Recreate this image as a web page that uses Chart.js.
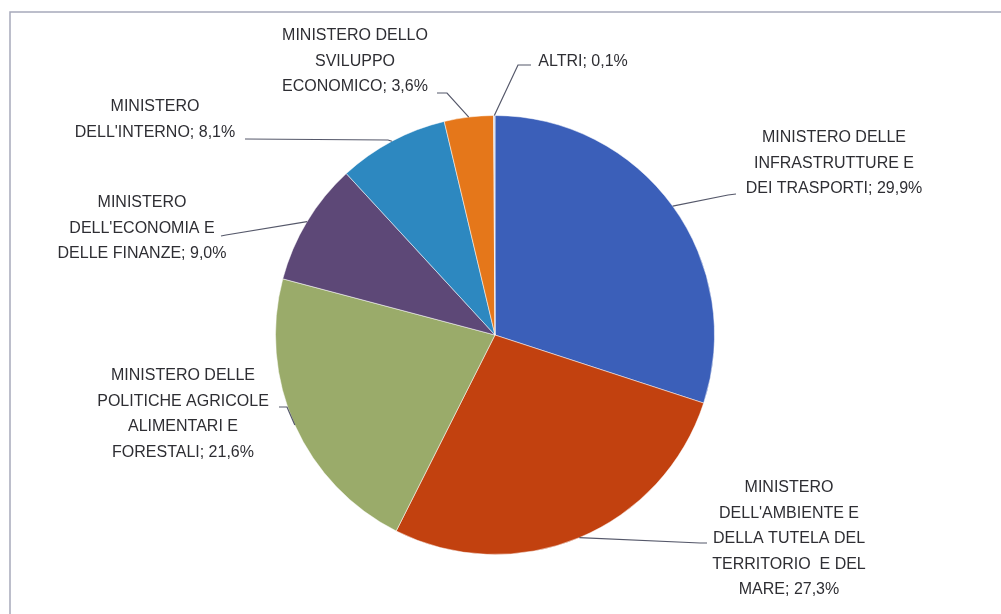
<!DOCTYPE html>
<html>
<head>
<meta charset="utf-8">
<script src="https://cdn.jsdelivr.net/npm/chart.js@4"></script>
<style>
  html, body { margin: 0; padding: 0; background: #fff; }
  #wrap { width: 1001px; height: 614px; position: relative; }
</style>
</head>
<body>
<div id="wrap"><canvas id="pieChart"></canvas></div>
<script>
// categories (label lines) and shares in %
const categories = [
    ["MINISTERO DELLE", "INFRASTRUTTURE E", "DEI TRASPORTI"],
    ["MINISTERO", "DELL'AMBIENTE E", "DELLA TUTELA DEL", "TERRITORIO  E DEL", "MARE"],
    ["MINISTERO DELLE", "POLITICHE AGRICOLE", "ALIMENTARI E", "FORESTALI"],
    ["MINISTERO", "DELL'ECONOMIA E", "DELLE FINANZE"],
    ["MINISTERO", "DELL'INTERNO"],
    ["MINISTERO DELLO", "SVILUPPO", "ECONOMICO"],
    ["ALTRI"]
];
const shares = [29.9, 27.3, 21.6, 9.0, 8.1, 3.6, 0.1];
const sliceColors = ["#3b5fb9", "#c2410f", "#9aab6a", "#5d4877", "#2d88c0", "#e5771a", "#c5d2ea"];

// where each label sits: text centre x, first line y, leader start and elbow
const labelLayout = [
    { x: 834, y: 138, attach: [736, 194], elbow: [728, 195] },
    { x: 789, y: 488, attach: [707, 543], elbow: [700, 543] },
    { x: 183, y: 376, attach: [279, 407], elbow: [287, 407] },
    { x: 142, y: 203, attach: [221, 236], elbow: [226, 235] },
    { x: 155, y: 107, attach: [245, 139], elbow: [388, 140] },
    { x: 355, y: 36, attach: [437, 93], elbow: [447, 93] },
    { x: 583, y: 62, attach: [531, 65], elbow: [518, 65] }
];
const lineHeight = 25.5;

function fmt(v) {
    return v.toFixed(1).replace('.', ',') + '%';
}

const framePlugin = {
    id: 'frame',
    beforeDraw(chart) {
        const c = chart.ctx;
        c.save();
        c.strokeStyle = '#a7a9bb';
        c.lineWidth = 1.5;
        c.beginPath();
        c.moveTo(10, 614);
        c.lineTo(10, 12);
        c.lineTo(1001, 12);
        c.stroke();
        c.restore();
    }
};

const labelPlugin = {
    id: 'pieLabels',
    afterDraw(chart) {
        const c = chart.ctx;
        const arcs = chart.getDatasetMeta(0).data;
        c.save();
        c.font = '16px "Liberation Sans", Arial, sans-serif';
        c.fillStyle = '#2e2e33';
        c.textAlign = 'center';
        c.textBaseline = 'middle';
        arcs.forEach((arc, i) => {
            const p = labelLayout[i];
            const lines = categories[i].slice();
            lines[lines.length - 1] += '; ' + fmt(shares[i]);
            lines.forEach((t, k) => c.fillText(t, p.x, p.y + k * lineHeight));

            const mid = (arc.startAngle + arc.endAngle) / 2;
            const ex = arc.x + Math.cos(mid) * arc.outerRadius;
            const ey = arc.y + Math.sin(mid) * arc.outerRadius;
            c.strokeStyle = '#55586a';
            c.lineWidth = 1.2;
            c.beginPath();
            c.moveTo(p.attach[0], p.attach[1]);
            c.lineTo(p.elbow[0], p.elbow[1]);
            c.lineTo(ex, ey);
            c.stroke();
        });
        c.restore();
    }
};

const ctx = document.getElementById('pieChart').getContext('2d');
const pieChart = new Chart(ctx, {
    type: 'pie',
    data: {
        labels: categories.map(l => l.join(' ')),
        datasets: [{
            data: shares,
            backgroundColor: sliceColors,
            borderColor: 'rgba(255,255,255,0.5)',
            borderWidth: 1
        }]
    },
    options: {
        responsive: true,
        maintainAspectRatio: false,
        animation: false,
        layout: {
            padding: { top: 115, bottom: 59, left: 275, right: 286 }
        },
        plugins: {
            legend: { display: false },
            tooltip: { enabled: false }
        }
    },
    plugins: [framePlugin, labelPlugin]
});
</script>
</body>
</html>
